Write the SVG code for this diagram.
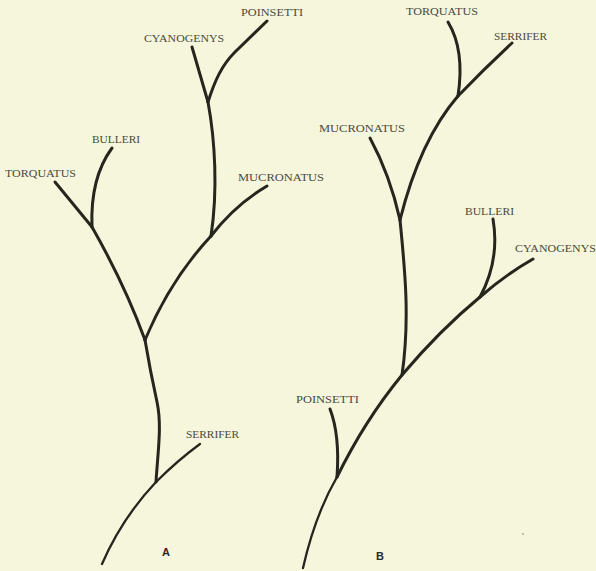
<svg xmlns="http://www.w3.org/2000/svg" width="596" height="571" viewBox="0 0 596 571">
<style>
.b{fill:none;stroke:#26261f;stroke-width:3;stroke-linecap:round;stroke-linejoin:round}
.t{fill:none;stroke:#26261f;stroke-width:2.3;stroke-linecap:round}
.l{font-family:"Liberation Serif",serif;font-size:10px;fill:#4a4a40}
.k{font-family:"Liberation Sans",sans-serif;font-size:11px;font-weight:bold;fill:#2a2a22}
</style>
<rect width="596" height="571" fill="#f6f6dc"/>
<g id="connectors">
<path class="t" d="M102,564 Q122,518 156,482"/>
<path class="t" d="M156,482 Q178,460 200,444"/>
<path class="b" d="M156,482 C158,450 162,425 157,402 Q150,370 145,340"/>
<path class="b" d="M145,340 Q125,285 92,227"/>
<path class="b" d="M92,227 L55,182"/>
<path class="b" d="M92,227 Q90,178 112,148"/>
<path class="b" d="M145,340 Q170,280 211,236"/>
<path class="b" d="M211,236 Q235,205 267,186"/>
<path class="b" d="M211,236 C218,190 215,140 208,102"/>
<path class="b" d="M208,102 L192,47"/>
<path class="b" d="M208,102 C215,80 222,65 235,52 L267,21"/>
<path class="t" d="M303,568 Q315,515 337,477"/>
<path class="b" d="M337,477 Q340,435 330,409"/>
<path class="b" d="M337,477 Q365,420 402,375 Q440,330 480,297"/>
<path class="b" d="M480,297 Q505,275 533,259"/>
<path class="b" d="M480,297 Q500,260 493,219"/>
<path class="b" d="M402,375 C410,320 405,270 400,220"/>
<path class="b" d="M400,220 Q390,175 370,138"/>
<path class="b" d="M400,220 Q420,140 458,96"/>
<path class="b" d="M458,96 Q465,50 448,22"/>
<path class="b" d="M458,96 Q485,68 512,43"/>
</g>
<g id="treeA">
<text class="l" x="241" y="16" textLength="62" lengthAdjust="spacingAndGlyphs">POINSETTI</text>
<text class="l" x="144" y="42" textLength="80" lengthAdjust="spacingAndGlyphs">CYANOGENYS</text>
<text class="l" x="92" y="143" textLength="48" lengthAdjust="spacingAndGlyphs">BULLERI</text>
<text class="l" x="5" y="177" textLength="71" lengthAdjust="spacingAndGlyphs">TORQUATUS</text>
<text class="l" x="238" y="181" textLength="86" lengthAdjust="spacingAndGlyphs">MUCRONATUS</text>
<text class="l" x="186" y="438" textLength="53" lengthAdjust="spacingAndGlyphs">SERRIFER</text>
<text class="k" x="166" y="556" text-anchor="middle">A</text>
</g>
<g id="treeB">
<text class="l" x="406" y="15" textLength="72" lengthAdjust="spacingAndGlyphs">TORQUATUS</text>
<text class="l" x="494" y="40" textLength="53" lengthAdjust="spacingAndGlyphs">SERRIFER</text>
<text class="l" x="319" y="132" textLength="86" lengthAdjust="spacingAndGlyphs">MUCRONATUS</text>
<text class="l" x="465" y="215" textLength="49" lengthAdjust="spacingAndGlyphs">BULLERI</text>
<text class="l" x="515" y="252" textLength="81" lengthAdjust="spacingAndGlyphs">CYANOGENYS</text>
<text class="l" x="296" y="403" textLength="63" lengthAdjust="spacingAndGlyphs">POINSETTI</text>
<text class="k" x="380" y="560" text-anchor="middle">B</text>
<circle cx="523" cy="534" r="0.8" fill="#777"/>
</g>
</svg>
